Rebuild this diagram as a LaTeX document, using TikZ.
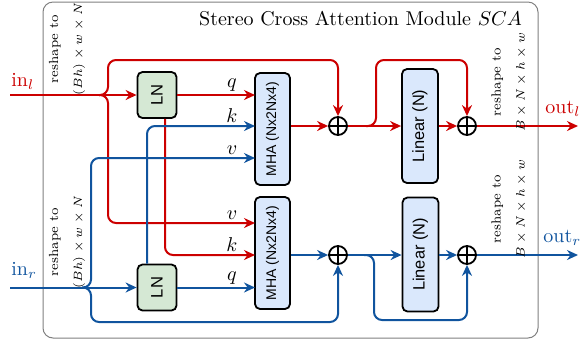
\documentclass[tikz,border=0pt]{standalone}
\usepackage{fontspec}
\usepackage{graphicx}
\newfontfamily\boxfont{Liberation Sans}
\usetikzlibrary{arrows.meta,calc}
\definecolor{cred}{RGB}{204,0,0}
\definecolor{cblue}{RGB}{16,84,158}
\definecolor{lnfill}{RGB}{213,232,212}
\definecolor{blfill}{RGB}{218,232,252}
\newcommand{\reshtxt}[1]{{\fontsize{6.6}{10}\selectfont reshape to}\\{\fontsize{6}{10}\selectfont $#1$}}
\begin{document}
\begin{tikzpicture}[x=0.5pt,y=-0.5pt,
 wire/.style={line width=1pt, rounded corners=4pt},
 arr/.style={-{Stealth[length=5.5pt,width=5pt]}},
 redw/.style={wire,draw=cred},
 bluew/.style={wire,draw=cblue},
 blk/.style={draw=black,line width=0.9pt,rounded corners=2.5pt,inner sep=0pt},
 lnbox/.style={blk,fill=lnfill,minimum width=19.5pt,minimum height=23pt,font=\boxfont\fontsize{8.3}{9}\selectfont},
 mhabox/.style={blk,fill=blfill,minimum width=17.5pt,minimum height=56pt,font=\boxfont\fontsize{7}{8}\selectfont},
 linbox/.style={blk,fill=blfill,minimum width=18pt,minimum height=57pt,font=\boxfont\fontsize{8.2}{9}\selectfont},
 plus/.style={circle,draw=black,line width=0.9pt,minimum size=9pt,inner sep=0pt,
   path picture={\draw[black,line width=0.9pt] (path picture bounding box.north) -- (path picture bounding box.south) (path picture bounding box.west) -- (path picture bounding box.east);}},
 lbl/.style={above,inner sep=1.5pt},
 resh/.style={rotate=90,align=center,inner sep=0pt}
]
\useasboundingbox (0,0) rectangle (580,345);
% frame
\draw[black!50, line width=0.5pt, rounded corners=5pt] (43,2) rectangle (538,338);
\node[anchor=base east] (title) at (529,25) {Stereo Cross Attention Module $SCA$};

% boxes
\node[lnbox] (LN1) at (157,95) {\rotatebox{90}{LN}};
\node[lnbox] (LN2) at (157,287.5) {\rotatebox{90}{LN}};
\node[mhabox] (MHA1) at (272.5,129) {\rotatebox{90}{MHA (Nx2Nx4)}};
\node[mhabox] (MHA2) at (272.5,253) {\rotatebox{90}{MHA (Nx2Nx4)}};
\node[linbox] (Lin1) at (420,126) {\rotatebox{90}{Linear (N)}};
\node[linbox] (Lin2) at (420.5,254.5) {\rotatebox{90}{Linear (N)}};
\node[plus] (P1) at (338,126) {};
\node[plus] (P2) at (338,255) {};
\node[plus] (P3) at (467,126) {};
\node[plus] (P4) at (467,255) {};

% coordinates
\coordinate (inl) at (10,95);
\coordinate (inr) at (10,287.5);
\coordinate (bl) at (99,95);
\coordinate (br) at (82,287.5);
\coordinate (m1q) at (255,95);
\coordinate (m1k) at (255,126);
\coordinate (m1v) at (255,158);
\coordinate (m2v) at (255,223);
\coordinate (m2k) at (255,255);
\coordinate (m2q) at (255,287.5);
\coordinate (b3) at (366,126);
\coordinate (b4) at (364,255);
\coordinate (outl) at (578,126);
\coordinate (outr) at (578,255);

% red wires
\draw[redw,arr] (inl) -- (LN1.west);
\draw[redw,arr] (bl) -| (108,60) -| (P1.north);
\draw[redw,arr] (bl) -| (108,223) -- (m2v);
\draw[redw,arr] (LN1.east |- m1q) -- (m1q);
\draw[redw,arr] ($(LN1.south)+(8,0)$) |- (m2k);
\draw[redw,arr] (MHA1.east |- P1) -- (P1.west);
\draw[redw,arr] (P1.east) -- (Lin1.west |- P1);
\draw[redw,arr] (b3) -| (376,60) -| (P3.north);
\draw[redw,arr] (Lin1.east |- P3) -- (P3.west);
\draw[redw,arr] (P3.east) -- (outl);

% blue wires
\draw[bluew,arr] (inr) -- (LN2.west);
\draw[bluew,arr] (br) -| (91,158) -- (m1v);
\draw[bluew,arr] (br) -| (91,322) -| (P2.south);
\draw[bluew,arr] (LN2.east) -- (m2q);
\draw[bluew,arr] ($(LN2.north)+(-10,0)$) |- (m1k);
\draw[bluew,arr] (MHA2.east |- P2) -- (P2.west);
\draw[bluew,arr] (P2.east) -- (Lin2.west |- P2);
\draw[bluew,arr] (b4) -| (374,320) -| (P4.south);
\draw[bluew,arr] (Lin2.east |- P4) -- (P4.west);
\draw[bluew,arr] (P4.east) -- (outr);

% labels
\node[lbl] (lq1) at (232,95) {$q$};
\node[lbl] (lk1) at (232,126) {$k$};
\node[lbl] (lv1) at (232,158) {$v$};
\node[lbl] (lv2) at (232,223) {$v$};
\node[lbl] (lk2) at (232,255) {$k$};
\node[lbl] (lq2) at (232,287.5) {$q$};

\node[anchor=base west,text=cred,inner sep=0pt] (inlab) at (11,86) {in$_l$};
\node[anchor=base west,text=cblue,inner sep=0pt] (inrlab) at (11,275) {in$_r$};
\node[anchor=base west,text=cred,inner sep=0pt] (outllab) at (545,113) {out$_l$};
\node[anchor=base west,text=cblue,inner sep=0pt] (outrlab) at (543,242) {out$_r$};

\node[resh] (r1) at (67,49) {\reshtxt{(Bh)\times w\times N}};
\node[resh] (r2) at (67,242) {\reshtxt{(Bh)\times w\times N}};
\node[resh] (r3) at (509,82) {\reshtxt{B\times N\times h\times w}};
\node[resh] (r4) at (509,209) {\reshtxt{B\times N\times h\times w}};
\end{tikzpicture}
\end{document}
